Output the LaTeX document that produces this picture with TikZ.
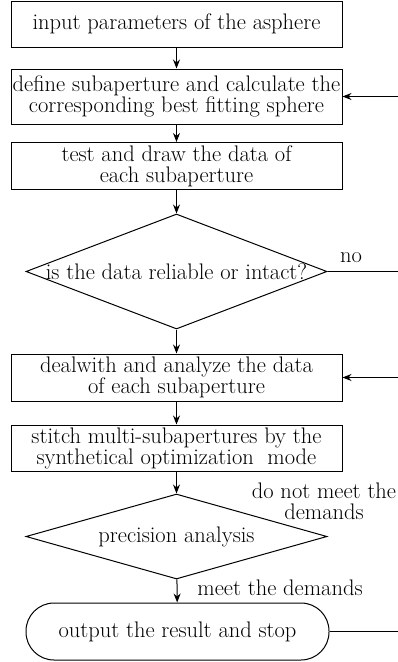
\documentclass[tikz,border=0pt]{standalone}
\usepackage{fontspec}
\usetikzlibrary{arrows.meta,shapes.geometric}
\begin{document}
\begin{tikzpicture}[x=1pt,y=-1pt,
  every node/.style={font=\fontsize{22.5}{21}\selectfont, inner sep=0pt},
  procbox/.style={draw, line width=1pt, minimum width=331pt, align=center},
  decision/.style={draw, diamond, line width=1pt, minimum width=301pt},
  terminal/.style={draw, line width=1pt, rounded corners=28pt, minimum width=303pt, minimum height=57pt},
  flow/.style={line width=1pt, -{Stealth[length=9pt,width=7pt]}},
  plain/.style={line width=1pt}]
\useasboundingbox (0,0) rectangle (398,662);

\node[procbox, minimum height=46pt] (b1) at (176.5,24) {input parameters of the asphere};
\node[procbox, minimum height=55pt] (b2) at (176.5,96.5) {define subaperture and calculate the\\corresponding best fitting sphere};
\node[procbox, minimum height=47pt] (b3) at (176.5,166) {test and draw the data of\\each subaperture};
\node[decision, minimum height=115pt] (q1) at (176.5,271.5) {\makebox[0pt]{is the data reliable or intact?}};
\node[procbox, minimum height=47pt] (b4) at (176.5,377.5) {dealwith and analyze the data\\of each subaperture};
\node[procbox, minimum height=46pt] (b5) at (176.5,448) {stitch multi-subapertures by the\\synthetical optimization\ \ mode};
\node[decision, minimum height=85pt] (q2) at (176.5,536.5) {\makebox[0pt]{precision analysis}};
\node[terminal] (t) at (177.5,631.5) {output the result and stop};

% return paths entering from the right margin
\coordinate (r2) at (398,96.5);
\coordinate (r4) at (398,377.5);
\coordinate (rq1) at (398,271.5);
\coordinate (rt) at (398,631.5);

\draw[flow] (b1) -- (b2);
\draw[flow] (b2) -- (b3);
\draw[flow] (b3) -- (q1);
\draw[flow] (q1) -- (b4);
\draw[flow] (b4) -- (b5);
\draw[flow] (b5) -- (q2);
\draw[flow] (q2) -- (t);
\draw[flow] (r2) -- (b2.east);
\draw[flow] (r4) -- (b4.east);
\draw[plain] (q1.east) -- (rq1);
\draw[plain] (t.east) -- (rt);

\node (lno) at (351,258) {no};
\node[align=center] (lnm) at (324,501) {do not meet the\\demands};
\node (lm) at (280,588) {meet the demands};
\end{tikzpicture}
\end{document}
